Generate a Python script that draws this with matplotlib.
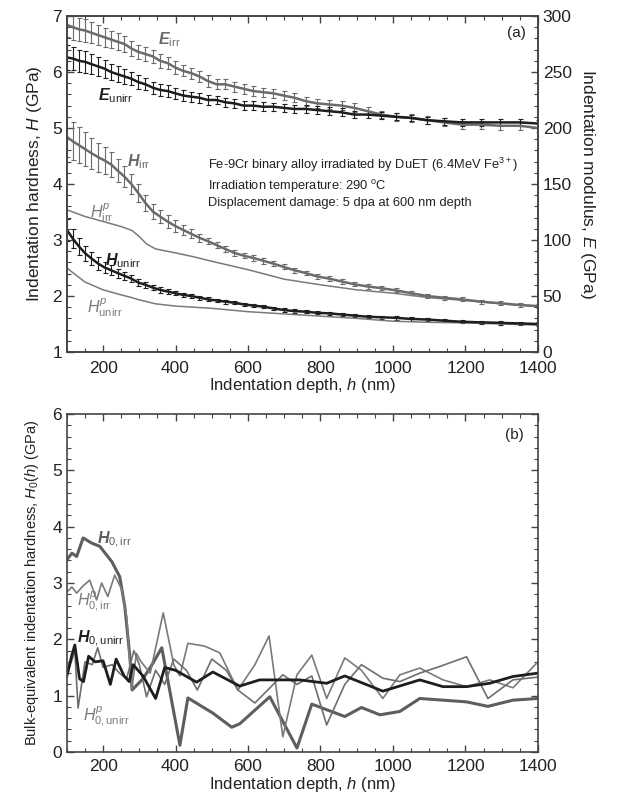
import matplotlib.pyplot as plt
from matplotlib.ticker import MultipleLocator

plt.rcParams['font.family'] = ['Liberation Sans', 'DejaVu Sans']
plt.rcParams['mathtext.fontset'] = 'custom'
plt.rcParams['mathtext.rm'] = 'Liberation Sans'
plt.rcParams['mathtext.it'] = 'Liberation Sans:italic'
plt.rcParams['mathtext.bf'] = 'Liberation Sans:bold'
plt.rcParams['mathtext.bfit'] = 'Liberation Sans:italic:bold'

# (a) depth grid for hardness / modulus profiles, nm
depth = [100, 117, 134, 151, 168, 186, 204, 222, 240, 259, 278, 297, 317, 337, 357,
         378, 399, 421, 443, 466, 489, 513, 537, 562, 588, 614, 641, 669, 698, 728,
         759, 791, 824, 858, 893, 930, 968, 1008, 1050, 1094, 1140, 1190, 1242, 1296,
         1350, 1400]

E_irr = [292, 290, 288, 287, 285, 283, 281, 279, 277, 275, 271, 268, 266, 264, 260,
         258, 254, 251, 249, 246, 242, 239, 239, 237, 235, 233, 232, 231, 229, 227,
         224, 222, 221, 220, 218, 215, 212, 210, 209, 207, 205, 203, 203, 202, 202, 200]
E_irr_err = [11, 11, 10.5, 10, 9.5, 9, 8.5, 8, 7.5, 7, 7, 6.5, 6.5, 6, 6, 5.5, 5.5, 5,
             5, 5, 5, 4.5, 4.5, 4.5, 4.5, 4.5, 4, 4, 4, 4, 4, 4, 4, 4, 4, 3.5, 3.5, 3.5,
             3.5, 3.5, 3.5, 3.5, 3.5, 3.5, 3.5, 3.5]

E_unirr = [263, 262, 260, 259, 257, 255, 253, 250, 248, 246, 244, 241, 239, 236, 234,
           233, 231, 229, 228, 227, 225, 225, 223, 222, 220, 220, 219, 219, 218, 217,
           217, 216, 215, 214, 212, 212, 211, 210, 209, 207, 206, 205, 205, 205, 205, 204]
E_unirr_err = [11, 10.5, 10, 9.5, 9, 8.5, 8, 7.5, 7, 6.5, 6, 6, 5.5, 5.5, 5, 5, 5, 4.5,
               4.5, 4.5, 4.5, 4, 4, 4, 4, 4, 4, 3.5, 3.5, 3.5, 3.5, 3.5, 3.5, 3.5, 3.5,
               3.5, 3, 3, 3, 3, 3, 3, 3, 3, 3, 3]

H_irr = [4.84, 4.76, 4.69, 4.62, 4.55, 4.48, 4.42, 4.35, 4.24, 4.13, 4.00, 3.84, 3.66,
         3.51, 3.42, 3.33, 3.25, 3.18, 3.11, 3.04, 2.98, 2.91, 2.84, 2.77, 2.72, 2.68,
         2.63, 2.58, 2.52, 2.46, 2.41, 2.35, 2.31, 2.26, 2.21, 2.17, 2.14, 2.10, 2.05,
         2.00, 1.97, 1.94, 1.90, 1.87, 1.84, 1.82]
H_irr_err = [0.36, 0.34, 0.32, 0.30, 0.28, 0.26, 0.24, 0.22, 0.20, 0.19, 0.17, 0.16, 0.15,
             0.13, 0.12, 0.11, 0.10, 0.09, 0.08, 0.07, 0.06, 0.06, 0.05, 0.05, 0.05, 0.05,
             0.05, 0.045, 0.045, 0.045, 0.04, 0.04, 0.04, 0.04, 0.04, 0.04, 0.04, 0.035,
             0.035, 0.035, 0.035, 0.035, 0.035, 0.035, 0.035, 0.035]

H_unirr = [3.18, 3.02, 2.88, 2.76, 2.67, 2.58, 2.51, 2.46, 2.41, 2.36, 2.31, 2.24, 2.20,
           2.15, 2.11, 2.08, 2.05, 2.02, 2.00, 1.97, 1.94, 1.92, 1.90, 1.88, 1.85, 1.83,
           1.81, 1.78, 1.75, 1.73, 1.72, 1.70, 1.69, 1.67, 1.65, 1.63, 1.62, 1.61, 1.59,
           1.58, 1.56, 1.54, 1.53, 1.52, 1.51, 1.50]
H_unirr_err = [0.20, 0.17, 0.15, 0.13, 0.12, 0.11, 0.10, 0.09, 0.08, 0.07, 0.06, 0.06,
               0.05, 0.05, 0.05, 0.04, 0.04, 0.04, 0.04, 0.035, 0.035, 0.035, 0.035, 0.03,
               0.03, 0.03, 0.03, 0.03, 0.03, 0.03, 0.03, 0.03, 0.03, 0.03, 0.03, 0.03,
               0.03, 0.03, 0.03, 0.03, 0.03, 0.03, 0.03, 0.03, 0.03, 0.03]

# plastic-only hardness curves
depth_p = [100, 150, 200, 250, 280, 300, 320, 345, 400, 450, 500, 600, 700, 800, 900,
           1000, 1100, 1200, 1300, 1400]
Hp_irr = [3.54, 3.42, 3.33, 3.24, 3.17, 3.06, 2.93, 2.84, 2.77, 2.70, 2.62, 2.47, 2.30,
          2.20, 2.11, 2.05, 1.97, 1.92, 1.86, 1.81]
Hp_unirr = [2.50, 2.25, 2.11, 2.02, 1.97, 1.93, 1.90, 1.86, 1.82, 1.80, 1.78, 1.72, 1.68,
            1.64, 1.60, 1.55, 1.53, 1.52, 1.50, 1.48]

# (b) bulk-equivalent hardness
h0_irr = [100, 114, 127, 145, 168, 191, 224, 246, 260, 274, 280, 310, 335, 362, 412, 434,
          503, 555, 577, 660, 735, 776, 867, 913, 964, 1019, 1074, 1203, 1262, 1331, 1400]
H0_irr = [3.41, 3.53, 3.47, 3.80, 3.71, 3.65, 3.38, 3.11, 2.58, 1.69, 1.10, 1.30, 1.55,
          1.85, 0.12, 0.96, 0.69, 0.44, 0.50, 0.98, 0.07, 0.85, 0.63, 0.79, 0.66, 0.72,
          0.95, 0.89, 0.81, 0.92, 0.95]

h0p_irr = [100, 114, 127, 145, 163, 182, 196, 213, 232, 252, 265, 279, 292, 305, 330, 366,
           395, 412, 434, 480, 522, 572, 619, 658, 696, 735, 776, 817, 867, 913, 972, 1019,
           1074, 1138, 1203, 1267, 1331, 1400]
H0p_irr = [2.84, 2.93, 2.82, 2.95, 3.05, 2.70, 3.00, 2.76, 3.14, 2.88, 2.40, 1.10, 1.75,
           1.60, 1.40, 2.47, 1.55, 1.35, 1.93, 1.88, 1.76, 1.10, 1.55, 2.06, 0.27, 1.37,
           1.72, 0.95, 1.67, 1.45, 0.95, 1.37, 1.49, 1.28, 1.16, 1.28, 1.14, 1.60]

h0_unirr = [100, 113, 122, 135, 146, 160, 178, 200, 220, 236, 258, 272, 283, 310, 345, 370,
            400, 458, 503, 577, 632, 743, 817, 867, 972, 1074, 1138, 1203, 1267, 1331, 1400]
H0_unirr = [1.35, 1.70, 1.90, 1.30, 1.25, 1.70, 1.60, 1.62, 1.20, 1.65, 1.35, 1.25, 1.55,
            1.35, 0.95, 1.50, 1.45, 1.24, 1.42, 1.17, 1.28, 1.28, 1.22, 1.35, 1.08, 1.28,
            1.16, 1.16, 1.22, 1.34, 1.40]

h0p_unirr = [100, 122, 131, 150, 170, 185, 200, 225, 245, 265, 285, 300, 320, 345, 370, 395,
             430, 460, 500, 540, 572, 619, 696, 735, 776, 817, 867, 913, 972, 1019, 1074,
             1130, 1203, 1262, 1331, 1400]
H0p_unirr = [1.35, 1.80, 0.78, 1.60, 1.55, 1.85, 1.50, 1.55, 1.40, 1.30, 1.80, 1.55, 0.98,
             1.45, 1.20, 1.65, 1.45, 1.10, 1.65, 1.45, 1.10, 0.87, 1.37, 1.20, 1.35, 0.48,
             1.20, 1.55, 1.31, 1.25, 1.40, 1.52, 1.69, 0.95, 1.28, 1.33]

c_irr = '#6b6b6b'
c_unirr = '#1e1e1e'
c_thin = '#7a7a7a'
c_axis = '#444444'
c_text = '#222222'

fig = plt.figure(figsize=(6.19, 8), dpi=100)
ax1 = fig.add_axes([0.108, 0.56, 0.761, 0.42])
ax1r = ax1.twinx()
ax2 = fig.add_axes([0.108, 0.06, 0.761, 0.4225])


def style_axis(ax, fs=12.5):
    for s in ax.spines.values():
        s.set_color(c_axis)
        s.set_linewidth(1.2)
    ax.tick_params(which='both', direction='in', colors=c_axis, labelcolor=c_text,
                   labelsize=fs)
    ax.tick_params(which='major', length=5, width=1)
    ax.tick_params(which='minor', length=3, width=0.8)


# ---- panel (a)
eb = dict(capsize=1.8, elinewidth=0.8, capthick=0.8)
ax1r.errorbar(depth, E_irr, yerr=E_irr_err, color=c_irr, lw=1.8, **eb)
ax1r.errorbar(depth, E_unirr, yerr=E_unirr_err, color=c_unirr, lw=1.8, **eb)
ax1.errorbar(depth, H_irr, yerr=H_irr_err, color=c_irr, lw=1.8, **eb)
ax1.errorbar(depth, H_unirr, yerr=H_unirr_err, color=c_unirr, lw=1.8, **eb)
ax1.plot(depth_p, Hp_irr, color=c_thin, lw=1.1)
ax1.plot(depth_p, Hp_unirr, color=c_thin, lw=1.1)

ax1.set_xlim(100, 1400)
ax1.set_ylim(1, 7)
ax1r.set_ylim(0, 300)
ax1.xaxis.set_major_locator(MultipleLocator(200))
ax1.xaxis.set_minor_locator(MultipleLocator(50))
ax1.yaxis.set_major_locator(MultipleLocator(1))
ax1.yaxis.set_minor_locator(MultipleLocator(0.2))
ax1r.yaxis.set_major_locator(MultipleLocator(50))
ax1r.yaxis.set_minor_locator(MultipleLocator(10))
style_axis(ax1)
style_axis(ax1r)
ax1.tick_params(which='both', top=True, right=False)
ax1.tick_params(axis='x', pad=6.5)
ax1.set_xlabel('Indentation depth, $h$ (nm)', fontsize=12, color=c_text, labelpad=0)
ax1.set_ylabel('Indentation hardness, $H$ (GPa)', fontsize=12.5, color=c_text, labelpad=6)
ax1r.set_ylabel('Indentation modulus, $E$ (GPa)', fontsize=12.5, color=c_text,
                rotation=270, labelpad=18)

ax1.text(384, 6.5, r'$\mathbfit{E}_{\rm irr}$', color=c_irr, fontsize=11.5, ha='center')
ax1.text(186, 5.5, r'$\mathbfit{E}_{\rm unirr}$', color=c_unirr, fontsize=11.5)
ax1.text(265, 4.32, r'$\mathbfit{H}_{\rm irr}$', color=c_irr, fontsize=11.5)
ax1.text(163, 3.4, r'$H^{p}_{\rm irr}$', color=c_thin, fontsize=11.5)
ax1.text(205, 2.55, r'$\mathbfit{H}_{\rm unirr}$', color=c_unirr, fontsize=11.5)
ax1.text(155, 1.7, r'$H^{p}_{\rm unirr}$', color=c_thin, fontsize=11.5)
ax1.text(489, 4.27, 'Fe-9Cr binary alloy irradiated by DuET (6.4MeV Fe$^{3+}$)',
         fontsize=9.3, color=c_text)
ax1.text(489, 3.9, 'Irradiation temperature: 290 $^{\\rm o}$C', fontsize=9.3, color=c_text)
ax1.text(489, 3.6, 'Displacement damage: 5 dpa at 600 nm depth', fontsize=9.3,
         color=c_text)
ax1.text(1368, 6.62, '(a)', fontsize=11, ha='right', color=c_text)

# ---- panel (b)
ax2.plot(h0_irr, H0_irr, color='#5e5e5e', lw=2.2)
ax2.plot(h0p_irr, H0p_irr, color=c_thin, lw=1.2)
ax2.plot(h0p_unirr, H0p_unirr, color='#6e6e6e', lw=1.2)
ax2.plot(h0_unirr, H0_unirr, color=c_unirr, lw=2.0)

ax2.set_xlim(100, 1400)
ax2.set_ylim(0, 6)
ax2.xaxis.set_major_locator(MultipleLocator(200))
ax2.xaxis.set_minor_locator(MultipleLocator(50))
ax2.yaxis.set_major_locator(MultipleLocator(1))
ax2.yaxis.set_minor_locator(MultipleLocator(0.2))
style_axis(ax2)
ax2.tick_params(which='both', top=True, right=True)
ax2.tick_params(axis='x', pad=5)
ax2.set_xlabel('Indentation depth, $h$ (nm)', fontsize=12, color=c_text, labelpad=1)
ax2.set_ylabel('Bulk-equivalent indentation hardness, $H_0(h)$ (GPa)', fontsize=10.5,
               color=c_text, labelpad=8)

ax2.text(183, 3.7, r'$\mathbfit{H}_{\rm 0,irr}$', color='#5e5e5e', fontsize=11.5)
ax2.text(128, 2.6, r'$H^{p}_{\rm 0,irr}$', color=c_thin, fontsize=11.5)
ax2.text(128, 1.93, r'$\mathbfit{H}_{\rm 0,unirr}$', color=c_unirr, fontsize=11.5)
ax2.text(145, 0.55, r'$H^{p}_{\rm 0,unirr}$', color=c_thin, fontsize=11.5)
ax2.text(1362, 5.55, '(b)', fontsize=11, ha='right', color=c_text)

fig.savefig('out.png', dpi=100)
